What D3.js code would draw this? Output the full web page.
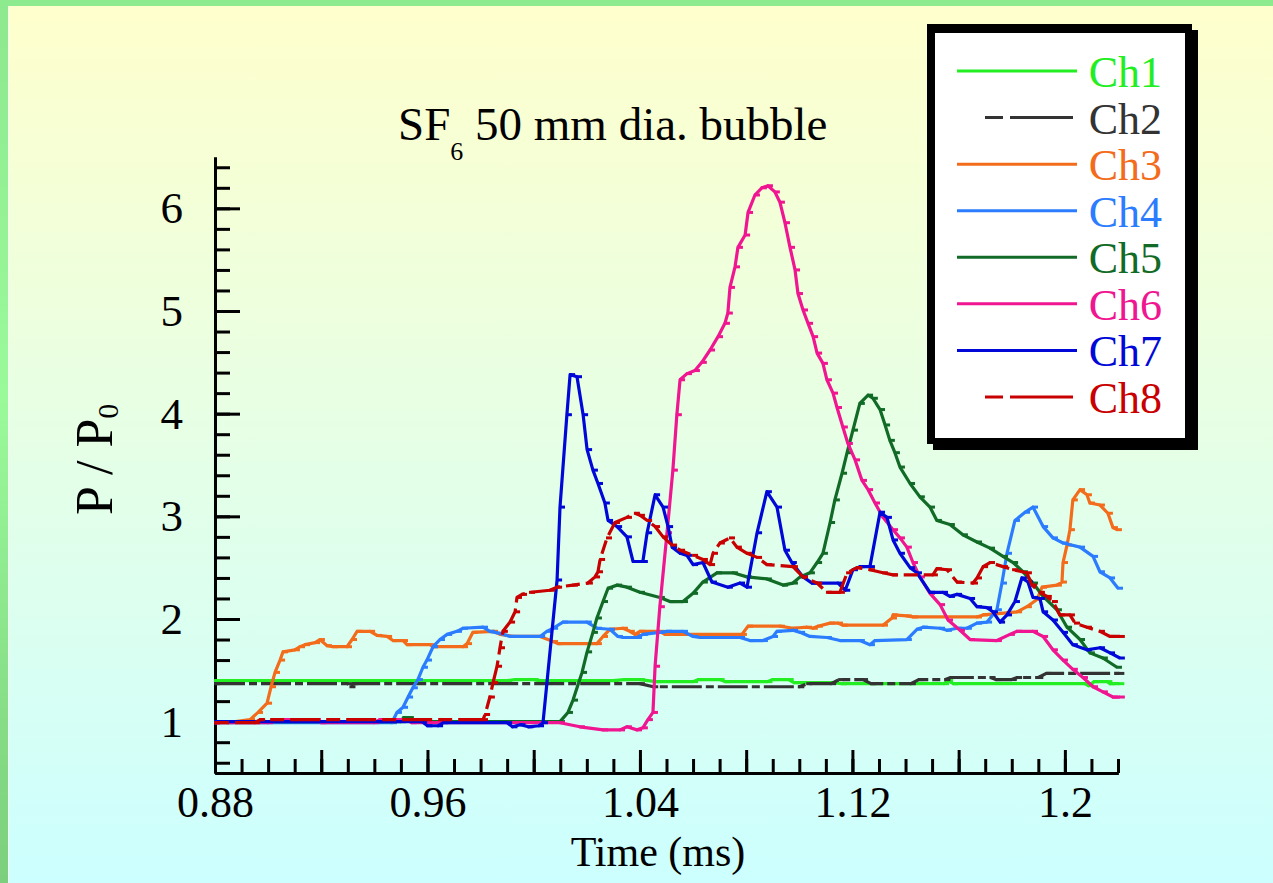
<!DOCTYPE html>
<html>
<head>
<meta charset="utf-8">
<script src="https://cdn.jsdelivr.net/npm/d3@7"></script>
<style>
  html, body { margin: 0; padding: 0; background: #fff; }
  svg { display: block; font-family: 'Liberation Serif', 'Times New Roman', serif; }
</style>
</head>
<body>
<svg id="chart" width="1273" height="883"></svg>
<script>
// channel names, in legend order
const channels = ['Ch1', 'Ch2', 'Ch3', 'Ch4', 'Ch5', 'Ch6', 'Ch7', 'Ch8']

// [time (ms), P/P0]
const ch1 = [[0.88,1.40],[0.99,1.40],[0.993,1.41],[1.0,1.41],[1.002,1.40],[1.03,1.40],[1.034,1.41],[1.04,1.41],[1.046,1.39],[1.06,1.39],[1.062,1.41],[1.07,1.41],[1.072,1.39],[1.088,1.39],[1.09,1.41],[1.096,1.41],[1.098,1.38],[1.113,1.38],[1.116,1.37],[1.1545,1.37],[1.156,1.40],[1.158,1.37],[1.2076,1.37],[1.209,1.35],[1.211,1.39],[1.216,1.39],[1.217,1.37],[1.2205,1.37]]

const ch2 = [[0.88,1.37],[0.93,1.37],[0.931,1.34],[0.932,1.37],[1.04,1.37],[1.045,1.34],[1.10,1.34],[1.103,1.37],[1.112,1.37],[1.115,1.41],[1.124,1.41],[1.127,1.37],[1.142,1.37],[1.145,1.41],[1.155,1.41],[1.157,1.43],[1.172,1.43],[1.174,1.41],[1.18,1.41],[1.182,1.43],[1.19,1.43],[1.193,1.47],[1.2205,1.47]]

const ch3 = [[0.88,1.0],[0.885,0.99],[0.8932,1.02],[0.8962,1.09],[0.8996,1.18],[0.9011,1.34],[0.9026,1.48],[0.9045,1.60],[0.9056,1.68],[0.9101,1.70],[0.912,1.73],[0.9139,1.75],[0.9177,1.77],[0.9195,1.80],[0.9222,1.74],[0.9244,1.73],[0.9297,1.73],[0.9316,1.80],[0.9335,1.88],[0.9384,1.88],[0.941,1.84],[0.9448,1.83],[0.947,1.79],[0.9508,1.79],[0.9523,1.75],[0.961,1.75],[0.9621,1.73],[0.9734,1.73],[0.9749,1.76],[0.9771,1.87],[0.9847,1.88],[0.9873,1.85],[0.9922,1.83],[1.0024,1.83],[1.0073,1.78],[1.0091,1.76],[1.0238,1.76],[1.0261,1.83],[1.0287,1.90],[1.0336,1.91],[1.0362,1.88],[1.0381,1.85],[1.04,1.88],[1.0475,1.88],[1.0494,1.85],[1.0784,1.85],[1.0807,1.93],[1.0927,1.93],[1.0976,1.91],[1.1029,1.92],[1.1051,1.91],[1.107,1.93],[1.1116,1.96],[1.1146,1.96],[1.1164,1.94],[1.1315,1.94],[1.1349,2.01],[1.1353,2.04],[1.1405,2.03],[1.1428,2.02],[1.1669,2.02],[1.1692,2.04],[1.1782,2.06],[1.182,2.07],[1.1857,2.12],[1.1895,2.19],[1.1914,2.31],[1.197,2.33],[1.1989,2.36],[1.1993,2.55],[1.2008,2.72],[1.2019,2.87],[1.203,3.16],[1.2057,3.26],[1.2083,3.21],[1.2094,3.13],[1.2132,3.11],[1.2162,3.03],[1.2181,2.89],[1.2196,2.87]]

const ch4 = [[0.88,0.99],[0.9466,0.99],[0.9485,1.09],[0.9508,1.14],[0.9527,1.24],[0.9545,1.33],[0.9564,1.41],[0.9583,1.53],[0.9598,1.60],[0.9621,1.73],[0.9647,1.80],[0.9674,1.85],[0.9711,1.88],[0.9734,1.91],[0.9809,1.92],[0.9835,1.88],[0.9873,1.86],[0.9911,1.83],[1.0024,1.83],[1.005,1.88],[1.0073,1.91],[1.011,1.97],[1.02,1.97],[1.0238,1.91],[1.0287,1.90],[1.0317,1.83],[1.0336,1.82],[1.0389,1.82],[1.0411,1.85],[1.0475,1.87],[1.0502,1.88],[1.0562,1.88],[1.06,1.83],[1.0626,1.82],[1.0777,1.82],[1.0814,1.79],[1.0863,1.79],[1.0901,1.83],[1.0916,1.88],[1.0976,1.89],[1.1003,1.87],[1.104,1.83],[1.1104,1.82],[1.1153,1.79],[1.1228,1.79],[1.1266,1.75],[1.1285,1.79],[1.1405,1.80],[1.1443,1.90],[1.1466,1.92],[1.153,1.91],[1.1556,1.89],[1.1594,1.91],[1.1631,1.91],[1.1669,1.96],[1.1707,1.97],[1.1744,2.09],[1.1763,2.35],[1.1782,2.64],[1.1812,2.96],[1.185,3.04],[1.188,3.09],[1.1918,2.90],[1.1955,2.79],[1.1993,2.74],[1.2057,2.70],[1.2106,2.61],[1.2132,2.46],[1.217,2.40],[1.22,2.30]]

const ch5 = [[0.88,1.0],[0.95,1.0],[0.951,1.04],[0.953,1.04],[0.954,1.0],[1.0099,1.0],[1.0129,1.09],[1.0148,1.21],[1.0182,1.48],[1.0201,1.68],[1.0223,1.87],[1.0238,2.01],[1.0261,2.17],[1.028,2.30],[1.0314,2.33],[1.0351,2.31],[1.04,2.26],[1.0475,2.21],[1.0513,2.17],[1.0562,2.17],[1.06,2.25],[1.0637,2.36],[1.069,2.45],[1.075,2.45],[1.0803,2.41],[1.0878,2.39],[1.0939,2.33],[1.0976,2.35],[1.1003,2.41],[1.104,2.45],[1.1067,2.55],[1.1089,2.64],[1.1116,2.94],[1.1134,3.16],[1.1161,3.42],[1.118,3.62],[1.1202,3.84],[1.1228,4.10],[1.1259,4.18],[1.1277,4.15],[1.1304,4.04],[1.1323,3.89],[1.1341,3.74],[1.136,3.62],[1.1379,3.48],[1.1417,3.32],[1.1454,3.19],[1.1492,3.09],[1.1518,2.96],[1.1567,2.92],[1.1616,2.82],[1.1669,2.75],[1.1718,2.69],[1.1767,2.61],[1.1805,2.55],[1.1842,2.46],[1.188,2.35],[1.1918,2.22],[1.197,2.09],[1.2008,1.92],[1.2057,1.80],[1.2094,1.67],[1.2143,1.62],[1.2196,1.53]]

const ch6 = [[0.88,0.99],[0.90,0.99],[0.902,1.02],[0.918,1.02],[0.92,0.99],[0.94,0.99],[0.942,1.02],[0.952,1.02],[0.954,0.99],[1.0099,0.99],[1.0174,0.95],[1.0261,0.92],[1.0325,0.92],[1.0351,0.95],[1.0389,0.92],[1.0411,0.94],[1.043,1.02],[1.0449,1.09],[1.0457,1.54],[1.0475,2.12],[1.0502,2.84],[1.0524,3.45],[1.0539,3.99],[1.0551,4.33],[1.0577,4.39],[1.0607,4.42],[1.0633,4.50],[1.0664,4.62],[1.0694,4.75],[1.072,4.88],[1.0731,4.98],[1.0739,5.23],[1.0758,5.43],[1.0769,5.62],[1.0796,5.74],[1.0807,5.96],[1.0833,6.13],[1.0859,6.20],[1.0882,6.22],[1.0908,6.16],[1.0927,6.06],[1.0946,5.86],[1.0965,5.62],[1.0984,5.40],[1.0995,5.17],[1.1014,5.01],[1.1033,4.88],[1.1052,4.75],[1.1067,4.59],[1.1089,4.49],[1.1104,4.33],[1.1127,4.20],[1.1142,4.06],[1.1164,3.87],[1.1183,3.71],[1.121,3.55],[1.1236,3.35],[1.1259,3.26],[1.1285,3.13],[1.1315,2.99],[1.1353,2.87],[1.1379,2.79],[1.1405,2.70],[1.1428,2.55],[1.1454,2.41],[1.1492,2.25],[1.153,2.14],[1.156,1.99],[1.1605,1.89],[1.1643,1.80],[1.1744,1.79],[1.1793,1.85],[1.182,1.88],[1.188,1.88],[1.1918,1.83],[1.1955,1.70],[1.1993,1.60],[1.203,1.51],[1.2068,1.43],[1.2106,1.34],[1.2143,1.29],[1.2181,1.24],[1.2207,1.24]]

const ch7 = [[0.88,1.0],[0.958,1.0],[0.96,0.96],[0.964,0.96],[0.966,0.99],[0.99,0.99],[0.992,0.95],[0.995,0.97],[0.998,0.95],[1.002,0.96],[1.0035,0.99],[1.0088,2.38],[1.0099,3.09],[1.0125,3.99],[1.0137,4.38],[1.0163,4.36],[1.0186,3.99],[1.0201,3.65],[1.0223,3.45],[1.0242,3.32],[1.0268,3.13],[1.028,2.96],[1.0314,2.90],[1.0351,2.80],[1.0374,2.56],[1.0411,2.56],[1.0427,2.84],[1.0457,3.21],[1.0487,3.09],[1.0506,2.90],[1.0521,2.70],[1.0551,2.64],[1.0577,2.62],[1.06,2.53],[1.0637,2.55],[1.0671,2.36],[1.0731,2.31],[1.0777,2.35],[1.0803,2.31],[1.0841,2.84],[1.0878,3.24],[1.0916,3.09],[1.0946,2.67],[1.0972,2.55],[1.1014,2.41],[1.1048,2.35],[1.1146,2.35],[1.1173,2.28],[1.1202,2.48],[1.1228,2.51],[1.1266,2.51],[1.1304,3.04],[1.133,2.99],[1.1353,2.77],[1.1379,2.64],[1.1417,2.50],[1.1443,2.45],[1.1492,2.26],[1.1541,2.26],[1.1567,2.22],[1.1594,2.24],[1.1643,2.20],[1.1669,2.12],[1.1707,2.11],[1.1729,2.07],[1.1756,1.97],[1.1782,2.04],[1.1812,2.17],[1.1838,2.40],[1.1861,2.36],[1.188,2.21],[1.1906,2.20],[1.1918,2.07],[1.1955,1.99],[1.1993,1.87],[1.203,1.75],[1.2083,1.70],[1.2132,1.72],[1.217,1.67],[1.2207,1.62]]

const ch8 = [[0.88,0.99],[0.895,0.99],[0.897,1.02],[0.9809,1.02],[0.9817,1.07],[0.9835,1.24],[0.9847,1.38],[0.9862,1.54],[0.9873,1.72],[0.9884,1.88],[0.9911,1.97],[0.993,2.07],[0.9937,2.21],[0.9956,2.24],[0.9986,2.26],[1.0061,2.28],[1.0088,2.31],[1.0148,2.33],[1.0204,2.35],[1.0231,2.41],[1.0242,2.46],[1.025,2.58],[1.0276,2.79],[1.0306,2.94],[1.0351,2.99],[1.0381,3.03],[1.04,3.01],[1.0427,2.96],[1.0457,2.90],[1.0487,2.80],[1.0521,2.72],[1.0551,2.67],[1.06,2.62],[1.0637,2.58],[1.0664,2.53],[1.0675,2.64],[1.0701,2.74],[1.0739,2.79],[1.0765,2.70],[1.0803,2.64],[1.0841,2.60],[1.0878,2.53],[1.0976,2.51],[1.1014,2.41],[1.1067,2.35],[1.1104,2.26],[1.1153,2.26],[1.118,2.45],[1.1217,2.50],[1.1266,2.48],[1.1315,2.45],[1.1353,2.43],[1.1503,2.43],[1.1518,2.49],[1.1556,2.48],[1.1594,2.36],[1.1654,2.35],[1.1669,2.40],[1.1692,2.51],[1.1718,2.55],[1.1767,2.51],[1.1805,2.48],[1.1857,2.45],[1.1876,2.33],[1.1906,2.26],[1.1932,2.22],[1.1955,2.17],[1.1981,2.04],[1.2019,2.04],[1.2038,1.96],[1.2083,1.92],[1.2132,1.88],[1.217,1.83],[1.2207,1.83]]

const xLabels = [0.88, 0.96, 1.04, 1.12, 1.2]
const yLabels = [1, 2, 3, 4, 5, 6]

const series = [ch1, ch2, ch3, ch4, ch5, ch6, ch7, ch8]

const colorScale = d3.scaleOrdinal()
  .domain(channels)
  .range(['#22ee22', '#333333', '#f36c1c', '#2b7cff', '#116a26', '#f01590', '#0008d8', '#c80000'])

const dashes = {Ch2: '30,4,8,4', Ch8: '14,6,30,6'}

const svg = d3.select('#chart')
const W = 1273, H = 883

// background + green frame
const defs = svg.append('defs')
const bg = defs.append('linearGradient').attr('id', 'bg')
  .attr('x1', 0).attr('y1', 0).attr('x2', 0).attr('y2', 1)
bg.append('stop').attr('offset', '0%').attr('stop-color', '#ffffcc')
bg.append('stop').attr('offset', '100%').attr('stop-color', '#ccffff')
const side = defs.append('linearGradient').attr('id', 'side')
  .attr('x1', 0).attr('y1', 0).attr('x2', 0).attr('y2', 1)
side.append('stop').attr('offset', '0%').attr('stop-color', '#8ee88e')
side.append('stop').attr('offset', '45%').attr('stop-color', '#9afa9a')
side.append('stop').attr('offset', '100%').attr('stop-color', '#7ccf7c')

svg.append('rect').attr('width', W).attr('height', H).attr('fill', 'url(#bg)')
svg.append('rect').attr('width', 8).attr('height', H).attr('fill', 'url(#side)')
svg.append('rect').attr('width', W).attr('height', 6).attr('fill', '#8eea8e')
svg.append('rect').attr('x', 8).attr('y', 6).attr('width', 1).attr('height', H).attr('fill', '#f4fff4')

const x = d3.scaleLinear().domain([0.88, 1.22]).range([215, 1118])
const y = d3.scaleLinear().domain([0.5, 6.5]).range([773, 157])

// axes
const xAxisG = svg.append('g').attr('transform', `translate(0,${y(0.5)})`)
xAxisG.append('g')
  .call(d3.axisBottom(x).tickValues(d3.range(0.89, 1.2201, 0.01)).tickSize(-14).tickSizeOuter(0).tickFormat(''))
xAxisG.append('g')
  .call(d3.axisBottom(x).tickValues(d3.range(0.92, 1.2201, 0.04)).tickSize(-23).tickSizeOuter(0).tickFormat(''))
xAxisG.append('g')
  .call(d3.axisBottom(x).tickValues(xLabels).tickSize(0).tickPadding(13).tickFormat(d => String(+d.toFixed(2))))
xAxisG.selectAll('.domain').attr('stroke', '#000').attr('stroke-width', 3)
xAxisG.selectAll('.tick line').attr('stroke', '#000').attr('stroke-width', 3)
xAxisG.selectAll('text').attr('font-size', 44).attr('font-family', 'Liberation Serif').attr('fill', '#000')

const yAxisG = svg.append('g').attr('transform', `translate(${x(0.88)},0)`)
yAxisG.append('g')
  .call(d3.axisLeft(y).tickValues(d3.range(0.6, 6.41, 0.2)).tickSize(-15).tickSizeOuter(0).tickFormat(''))
yAxisG.append('g')
  .call(d3.axisLeft(y).tickValues(yLabels).tickSize(-25).tickSizeOuter(0).tickPadding(32).tickFormat(d3.format('d')))
yAxisG.selectAll('.domain').attr('stroke', '#000').attr('stroke-width', 3)
yAxisG.selectAll('.tick line').attr('stroke', '#000').attr('stroke-width', 3)
yAxisG.selectAll('text').attr('font-size', 45).attr('font-family', 'Liberation Serif').attr('fill', '#000')

// axis titles
svg.append('text')
  .attr('x', 658).attr('y', 866)
  .attr('text-anchor', 'middle')
  .attr('font-size', 42)
  .text('Time (ms)')

const yTitle = svg.append('text')
  .attr('transform', 'translate(112,515) rotate(-90)')
  .attr('font-size', 52)
yTitle.append('tspan').text('P / P')
yTitle.append('tspan').attr('font-size', 30).attr('dy', 6).text('0')

const title = svg.append('text').attr('x', 398).attr('y', 140).attr('font-size', 47)
title.append('tspan').text('SF')
title.append('tspan').attr('font-size', 26).attr('dy', 20).text('6')
title.append('tspan').attr('dy', -20).text('\u00a050 mm dia. bubble')

// data lines
const line = d3.line().x(d => x(d[0])).y(d => y(d[1]))
const plot = svg.append('g')

channels.forEach((name, i) => {
  const g = plot.append('g')
  g.append('path')
    .attr('d', line(series[i]))
    .attr('fill', 'none')
    .attr('stroke', colorScale(name))
    .attr('stroke-width', 3.2)
    .attr('stroke-linejoin', 'round')
    .attr('stroke-dasharray', dashes[name] || null)
  g.selectAll('rect')
    .data(series[i])
    .join('rect')
    .attr('x', d => x(d[0]) - 1)
    .attr('y', d => y(d[1]) - 1.5)
    .attr('width', 6)
    .attr('height', 3)
    .attr('fill', colorScale(name))
})

// legend box
const legend = svg.append('g')
legend.append('rect').attr('x', 933).attr('y', 30).attr('width', 265).attr('height', 420).attr('fill', '#000')
legend.append('rect').attr('x', 927).attr('y', 24).attr('width', 265).attr('height', 420).attr('fill', '#000')
legend.append('rect').attr('x', 935).attr('y', 33).attr('width', 250).attr('height', 405).attr('fill', '#fff')

const rowY = d3.scalePoint().domain(channels).range([87, 413])

const rows = legend.selectAll('g.row')
  .data(channels)
  .join('g')
  .attr('class', 'row')
  .attr('transform', d => `translate(0,${rowY(d)})`)

rows.append('line')
  .attr('x1', d => dashes[d] ? 985 : 957)
  .attr('x2', d => dashes[d] ? 1073 : 1077)
  .attr('y1', -16).attr('y2', -16)
  .attr('stroke', d => colorScale(d))
  .attr('stroke-width', 3)
  .attr('stroke-dasharray', d => dashes[d] ? '18,7,80' : null)

rows.append('text')
  .attr('x', 1162)
  .attr('text-anchor', 'end')
  .attr('font-size', 44)
  .attr('fill', d => colorScale(d))
  .text(d => d)
</script>
</body>
</html>
